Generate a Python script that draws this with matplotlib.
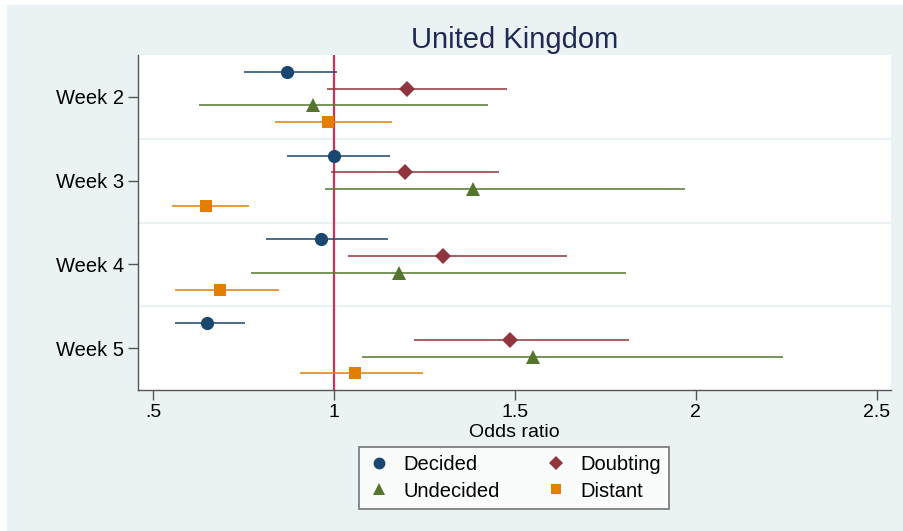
import numpy as np
import matplotlib
matplotlib.use("Agg")
import matplotlib.pyplot as plt
from matplotlib.lines import Line2D
from matplotlib.patches import Rectangle

plt.rcParams['font.family'] = ['Liberation Sans', 'DejaVu Sans']

weeks = ["Week 2", "Week 3", "Week 4", "Week 5"]
groups = ["Decided", "Doubting", "Undecided", "Distant"]

# odds ratio and confidence interval per group, one value per week
decided_or = [0.869, 1.000, 0.963, 0.649]
decided_lo = [0.752, 0.870, 0.812, 0.562]
decided_hi = [1.009, 1.154, 1.150, 0.754]

doubting_or = [1.201, 1.197, 1.302, 1.486]
doubting_lo = [0.982, 0.991, 1.038, 1.222]
doubting_hi = [1.479, 1.456, 1.643, 1.816]

undecided_or = [0.942, 1.385, 1.180, 1.551]
undecided_lo = [0.626, 0.975, 0.772, 1.078]
undecided_hi = [1.427, 1.970, 1.807, 2.241]

distant_or = [0.983, 0.646, 0.685, 1.059]
distant_lo = [0.838, 0.553, 0.562, 0.907]
distant_hi = [1.160, 0.765, 0.847, 1.247]

xticks = [0.5, 1, 1.5, 2, 2.5]
xticklabels = [".5", "1", "1.5", "2", "2.5"]

series = [
    (decided_or, decided_lo, decided_hi, "#1A476F", "o", 9.5),
    (doubting_or, doubting_lo, doubting_hi, "#90353B", "D", 8.5),
    (undecided_or, undecided_lo, undecided_hi, "#55752F", "^", 9.5),
    (distant_or, distant_lo, distant_hi, "#E37E00", "s", 8.5),
]

bg = "#EAF2F3"
fig = plt.figure(figsize=(9.04, 5.31), dpi=100, facecolor="white")
fig.patches.append(Rectangle((7 / 904, 0), 1, 1 - 5 / 531, transform=fig.transFigure,
                             facecolor=bg, edgecolor="none", zorder=-10))

ax = fig.add_axes([138 / 904, 1 - 390 / 531, (891 - 138) / 904, (390 - 55) / 531])
ax.set_facecolor("white")

n_slots = 5
for g, (vals, lo, hi, col, mk, ms) in enumerate(series):
    y = np.arange(len(weeks)) * n_slots + g + 1
    vals = np.array(vals)
    err = [vals - np.array(lo), np.array(hi) - vals]
    ax.errorbar(vals, y, xerr=err, fmt=mk, color=col, ecolor=col, elinewidth=1.1,
                capsize=0, markersize=ms, markeredgewidth=0, zorder=3)

for s in range(1, len(weeks)):
    ax.axhline(s * n_slots, color=bg, lw=1.6, zorder=1)
ax.axvline(1, color="#D4305A", lw=1.6, zorder=2)

ax.set_xlim(0.4585, 2.540)
ax.set_ylim(len(weeks) * n_slots, 0)
ax.set_yticks(np.arange(len(weeks)) * n_slots + 2.5)
ax.set_yticklabels(weeks, fontsize=14.5)
ax.set_xticks(xticks)
ax.set_xticklabels(xticklabels, fontsize=14)
ax.tick_params(axis="both", direction="out", length=7, width=1, color="#555555", pad=3)
ax.set_xlabel("Odds ratio", fontsize=14, labelpad=2)
ax.spines["top"].set_visible(False)
ax.spines["right"].set_visible(False)
for sp in ["left", "bottom"]:
    ax.spines[sp].set_color("#555555")
    ax.spines[sp].set_linewidth(1)

ax.set_title("United Kingdom", fontsize=21, color="#1E2A55", pad=5)

handles = [Line2D([], [], ls="none", marker=mk, color=col, markersize=ms - 1, markeredgewidth=0)
           for (_, _, _, col, mk, ms) in series]
order = [0, 2, 1, 3]
leg = fig.legend([handles[i] for i in order], [groups[i] for i in order], ncol=2,
                 loc="center", bbox_to_anchor=(514 / 904, 1 - 478 / 531), fontsize=14.5,
                 frameon=True, fancybox=False, edgecolor="#555555", handletextpad=0.6,
                 columnspacing=2.2, borderpad=0.4, labelspacing=0.35, handlelength=1.2)
leg.get_frame().set_linewidth(1.2)

fig.savefig("out.png", dpi=100, facecolor=fig.get_facecolor())
